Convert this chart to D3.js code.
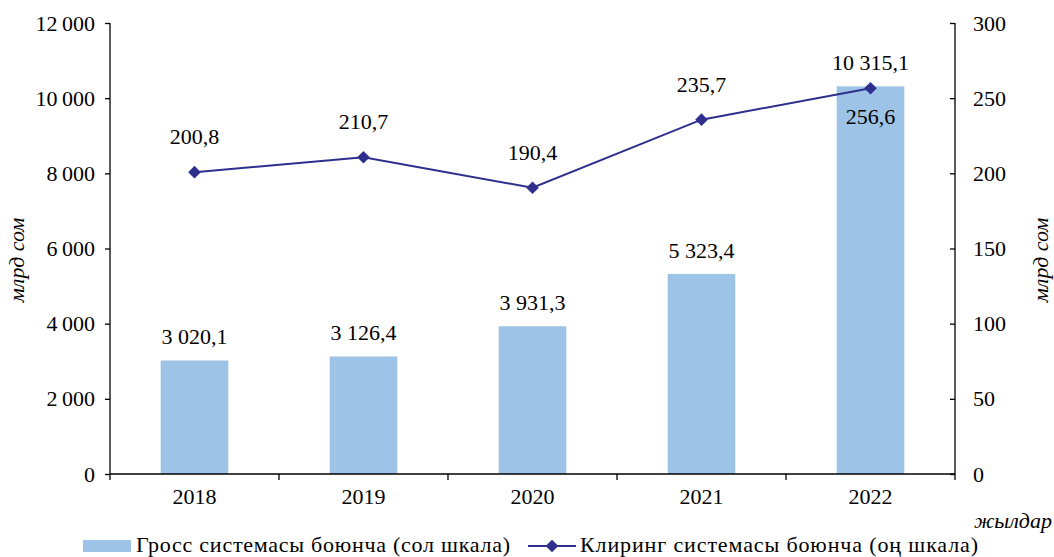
<!DOCTYPE html>
<html><head><meta charset="utf-8">
<script src="https://cdn.jsdelivr.net/npm/d3@7"></script>
</head><body style="margin:0;background:#fff"><svg id="c" width="1054" height="557" style="display:block"></svg>
<script>
const years = ["2018","2019","2020","2021","2022"];
const grossValues = [3020.1, 3126.4, 3931.3, 5323.4, 10315.1];
const clearingValues = [200.8, 210.7, 190.4, 235.7, 256.6];
const leftTicks = [0,2000,4000,6000,8000,10000,12000];
const rightTicks = [0,50,100,150,200,250,300];
const grossName = "Гросс системасы  боюнча (сол шкала)";
const clearingName = "Клиринг системасы  боюнча (оң шкала)";

const FONT = "'Liberation Serif', 'Times New Roman', serif";
const svg = d3.select("#c");
const L=110, R=955, T=23, B=474;
const fs = 22;
const fmtSp = v => d3.format(",")(v).replace(/,/g,"\u2009");
const fmtDec = v => { const p = v.toFixed(1).split("."); return p[0].replace(/\B(?=(\d{3})+(?!\d))/g," ")+","+p[1]; };
const txt = sel => sel.style("font-family",FONT).style("font-size",fs+"px").attr("fill","#000");

const x = d3.scaleBand().domain(years).range([L,R]).paddingInner(0).paddingOuter(0);
const yL = d3.scaleLinear().domain([0,12000]).range([B,T]);
const yR = d3.scaleLinear().domain([0,300]).range([B,T]);
const barW = x.bandwidth()*0.4;

svg.selectAll("rect.bar").data(years).enter().append("rect")
  .attr("x", d=>x(d)+x.bandwidth()/2-barW/2).attr("y", (d,i)=>yL(grossValues[i]))
  .attr("width", barW).attr("height", (d,i)=>B-yL(grossValues[i])).attr("fill","#9DC3E6");

const ga = svg.append("g").attr("transform",`translate(${L},0)`)
  .call(d3.axisLeft(yL).tickValues(leftTicks).tickSize(5).tickPadding(10).tickFormat(v=>v===0?"0":fmtSp(v)));
const gr = svg.append("g").attr("transform",`translate(${R},0)`)
  .call(d3.axisRight(yR).tickValues(rightTicks).tickSize(0).tickPadding(18));
gr.selectAll(".tick").append("line").attr("x1",-5).attr("x2",0);
const gb = svg.append("g").attr("transform",`translate(0,${B})`)
  .call(d3.axisBottom(x).tickSize(0).tickPadding(14));
svg.append("g").selectAll("line").data(d3.range(years.length+1)).enter().append("line")
  .attr("x1",i=>L+i*x.bandwidth()).attr("x2",i=>L+i*x.bandwidth())
  .attr("y1",B).attr("y2",B+6).attr("stroke","#000").attr("stroke-width",1.3);
[ga,gr,gb].forEach(g=>{
  g.attr("font-family","Liberation Serif").attr("font-size",fs);
  g.selectAll("path.domain").attr("stroke","#000").attr("stroke-width",1.3);
  g.selectAll(".tick line").attr("stroke","#000").attr("stroke-width",1.3);
  g.selectAll("text").call(txt);
});
ga.select("path.domain").attr("d",`M0,${T}V${B}`);
gr.select("path.domain").attr("d",`M0,${T}V${B}`);
gb.select("path.domain").attr("d",`M${L},0H${R}`);

svg.selectAll("text.bl").data(years).enter().append("text")
  .attr("x", d=>x(d)+x.bandwidth()/2).attr("y",(d,i)=>yL(grossValues[i])-16)
  .attr("text-anchor","middle").call(txt).text((d,i)=>fmtDec(grossValues[i]));

const lineColor = "#2E2F8C";
const line = d3.line().x((d,i)=>x(years[i])+x.bandwidth()/2).y(d=>yR(d));
svg.append("path").datum(clearingValues).attr("d",line).attr("fill","none").attr("stroke",lineColor).attr("stroke-width",2);
const diamond = d3.symbol().type(d3.symbolSquare).size(80);
svg.selectAll("path.pt").data(clearingValues).enter().append("path")
  .attr("transform",(d,i)=>`translate(${x(years[i])+x.bandwidth()/2},${yR(d)}) rotate(45)`)
  .attr("d",diamond).attr("fill",lineColor);
svg.selectAll("text.ll").data(clearingValues).enter().append("text")
  .attr("x",(d,i)=>x(years[i])+x.bandwidth()/2)
  .attr("y",(d,i)=> i===4 ? yR(d)+36 : yR(d)-28)
  .attr("text-anchor","middle").call(txt).text(d=>fmtDec(d));

svg.append("text").attr("transform","translate(24,260) rotate(-90)").attr("text-anchor","middle")
  .call(txt).style("font-style","italic").text("млрд сом");
svg.append("text").attr("transform","translate(1048,260) rotate(-90)").attr("text-anchor","middle")
  .call(txt).style("font-style","italic").text("млрд сом");
svg.append("text").attr("x",1052).attr("y",528).attr("text-anchor","end")
  .call(txt).style("font-style","italic").text("жылдар");

const ly = 546;
svg.append("rect").attr("x",83).attr("y",ly-6).attr("width",48).attr("height",12).attr("fill","#9DC3E6");
svg.append("text").attr("x",136).attr("y",ly+6).call(txt).attr("textLength",374).attr("lengthAdjust","spacing").text(grossName);
svg.append("line").attr("x1",528).attr("x2",576).attr("y1",ly).attr("y2",ly).attr("stroke",lineColor).attr("stroke-width",2);
svg.append("path").attr("transform",`translate(552,${ly}) rotate(45)`).attr("d",diamond).attr("fill",lineColor);
svg.append("text").attr("x",580).attr("y",ly+6).call(txt).attr("textLength",398).attr("lengthAdjust","spacing").text(clearingName);
</script></body></html>
